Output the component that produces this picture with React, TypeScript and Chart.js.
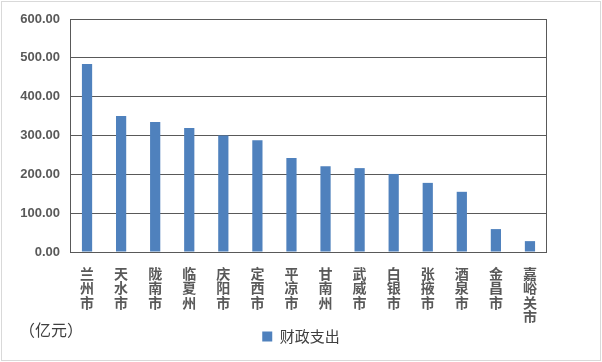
import React, { useEffect, useRef } from 'react';
import { Chart, registerables } from 'chart.js';

Chart.register(...registerables);

const categories = ['兰州市', '天水市', '陇南市', '临夏州', '庆阳市', '定西市', '平凉市', '甘南州', '武威市', '白银市', '张掖市', '酒泉市', '金昌市', '嘉峪关市'];
const spending = [484, 350, 335, 319, 300, 288, 242, 221, 216, 201, 178, 155, 59, 28];
const yTickMin = 0;
const yTickMax = 600;
const yTickStep = 100;
const seriesName = '财政支出';
const unitLabel = '（亿元）';

const W = 602;
const H = 362;
const BOTTOM_PAD = 8;

const framePlugin = {
  id: 'frame',
  beforeDraw(chart: any) {
    const ctx = chart.ctx;
    ctx.save();
    ctx.fillStyle = '#ffffff';
    ctx.fillRect(0, 0, chart.width, chart.height);
    ctx.strokeStyle = '#d9d9d9';
    ctx.lineWidth = 1;
    ctx.strokeRect(1.5, 1.5, chart.width - 3, chart.height - 3);
    ctx.restore();
  },
  afterDatasetsDraw(chart: any) {
    const { ctx, chartArea } = chart;
    ctx.save();
    ctx.strokeStyle = '#595959';
    ctx.lineWidth = 1;
    const l = Math.round(chartArea.left) + 0.5;
    const r = Math.round(chartArea.right) - 0.5;
    const t = Math.round(chartArea.top) + 0.5;
    const b = Math.round(chartArea.bottom) + 0.5;
    ctx.beginPath();
    ctx.moveTo(l, t);
    ctx.lineTo(l, b);
    ctx.lineTo(r, b);
    ctx.lineTo(r, t);
    ctx.stroke();
    ctx.fillStyle = '#404040';
    ctx.font = '16px "Noto Sans CJK SC"';
    ctx.textBaseline = 'middle';
    ctx.textAlign = 'left';
    ctx.fillText(unitLabel, 19, 330);
    ctx.restore();
  },
};

export default function App() {
  const ref = useRef<HTMLCanvasElement | null>(null);

  useEffect(() => {
    if (!ref.current) return;
    const chart = new Chart(ref.current, {
      type: 'bar',
      data: {
        labels: categories.map((c) => c.split('')),
        datasets: [
          {
            label: seriesName,
            data: spending,
            backgroundColor: '#4F81BD',
            borderWidth: 0,
            barPercentage: 0.3,
            categoryPercentage: 1.0,
          },
        ],
      },
      options: {
        animation: false,
        responsive: false,
        devicePixelRatio: 1,
        layout: { padding: { top: 19, left: 0, right: 0, bottom: BOTTOM_PAD } },
        plugins: {
          tooltip: { enabled: false },
          legend: {
            position: 'bottom',
            labels: {
              boxWidth: 10,
              boxHeight: 10,
              padding: 6,
              color: '#404040',
              font: { family: '"Noto Sans CJK SC"', size: 15 },
            },
          },
        },
        scales: {
          x: {
            grid: { display: false },
            border: { display: false },
            ticks: {
              autoSkip: false,
              maxRotation: 0,
              minRotation: 0,
              padding: 6,
              color: '#595959',
              font: { family: '"Noto Sans CJK SC"', size: 14, weight: 'bold', lineHeight: 1.04 },
            },
            afterFit(scale: any) {
              const lh = scale.chart.legend ? scale.chart.legend.height : 0;
              scale.height = H - 252 - lh - BOTTOM_PAD;
            },
          },
          y: {
            min: yTickMin,
            max: yTickMax,
            grid: { color: '#595959', lineWidth: 1, drawTicks: false },
            border: { display: false },
            ticks: {
              stepSize: yTickStep,
              padding: 10,
              color: '#595959',
              font: { family: '"Liberation Sans"', size: 13, weight: 'bold' },
              callback: (v: any) => Number(v).toFixed(2),
            },
            afterFit(scale: any) {
              scale.width = 70;
            },
          },
          y2: {
            position: 'right',
            display: true,
            grid: { display: false },
            border: { display: false },
            ticks: { display: false },
            afterFit(scale: any) {
              scale.width = 55;
            },
          },
        },
      },
      plugins: [framePlugin],
    });
    return () => chart.destroy();
  }, []);

  return (
    <div style={{ position: 'absolute', left: 0, top: 0, width: W, height: H }}>
      <canvas ref={ref} width={W} height={H} style={{ width: W, height: H, display: 'block' }} />
    </div>
  );
}
